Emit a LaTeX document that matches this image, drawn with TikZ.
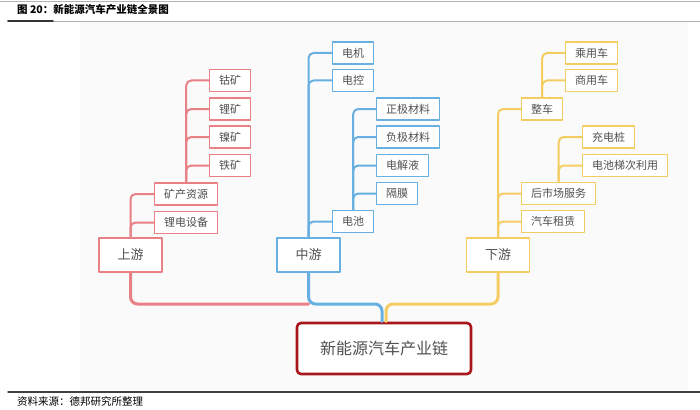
\documentclass[tikz,border=0pt]{standalone}
\usepackage{fontspec}
\setmainfont{Noto Sans CJK SC}
\usetikzlibrary{positioning}

\definecolor{upred}{RGB}{233,128,134}
\definecolor{midblue}{RGB}{104,176,226}
\definecolor{downyel}{RGB}{244,205,98}
\definecolor{hubred}{RGB}{168,22,28}
\definecolor{txtgray}{RGB}{80,80,80}
\definecolor{paper}{RGB}{250,250,250}

\tikzset{
  box/.style={draw=#1, line width=1.4pt, fill=white, text=txtgray,
    font=\fontsize{11}{13}\selectfont, minimum height=22pt,
    inner xsep=9.5pt, anchor=west},
  head/.style={box=#1, minimum height=34pt, minimum width=63pt,
    font=\fontsize{13}{15}\selectfont, anchor=center},
  branch/.style={draw=#1, line width=2pt, rounded corners=5pt},
  trunk/.style={draw=#1, line width=3pt, rounded corners=7pt},
}

\begin{document}
\begin{tikzpicture}[x=1pt, y=-1pt, line cap=round, line join=round]
  \useasboundingbox (0,0) rectangle (700,409);

  % Key values
  \def\busY{304}

  % Page frame: rules, title and source
  \fill[paper] (80,22) rectangle (688,390);
  \draw[gray!60, line width=0.6pt] (0,1) -- (700,1);
  \draw[gray!60, line width=0.8pt] (8,21) -- (700,21);
  \draw[black!80, line width=1.6pt] (8,21) -- (53,21);
  \draw[black!75, line width=1.4pt] (8,392) -- (700,392);
  \node[anchor=west, inner sep=0pt, font=\fontsize{10.5}{12}\selectfont\bfseries]
    (title) at (17,10) {图 20：新能源汽车产业链全景图};
  \node[anchor=west, inner sep=0pt, font=\fontsize{10.5}{12}\selectfont]
    (source) at (17,401.5) {资料来源：德邦研究所整理};

  % Centre node
  \node[draw=hubred, line width=2.6pt, rounded corners=4pt, fill=white,
    text=txtgray, minimum width=174pt, minimum height=51pt,
    font=\fontsize{16}{18}\selectfont] (hub) at (384,348.5) {新能源汽车产业链};

  % Upstream
  \node[head=upred] (up) at (130.5,255) {上游};
  \node[box=upred] (ore) at (154,194) {矿产资源};
  \node[box=upred] (equip) at (154,222.5) {锂电设备};
  \node[box=upred] (cobalt) at (209,80.5) {钴矿};
  \node[box=upred] (lithium) at (209,109) {锂矿};
  \node[box=upred] (nickel) at (209,137) {镍矿};
  \node[box=upred] (iron) at (209,165.5) {铁矿};

  % Midstream
  \node[head=midblue] (mid) at (308.5,255) {中游};
  \node[box=midblue] (motor) at (332,53) {电机};
  \node[box=midblue] (ectrl) at (332,80.5) {电控};
  \node[box=midblue] (battery) at (332,221.5) {电池};
  \node[box=midblue] (cathode) at (376,109) {正极材料};
  \node[box=midblue] (anode) at (376,137) {负极材料};
  \node[box=midblue] (electro) at (376,165.5) {电解液};
  \node[box=midblue] (separ) at (376,193.5) {隔膜};

  % Downstream
  \node[head=downyel] (down) at (498,255) {下游};
  \node[box=downyel] (vehicle) at (521,109) {整车};
  \node[box=downyel] (after) at (521,193.5) {后市场服务};
  \node[box=downyel] (rental) at (521,221.5) {汽车租赁};
  \node[box=downyel] (passenger) at (565,53) {乘用车};
  \node[box=downyel] (commercial) at (565,80.5) {商用车};
  \node[box=downyel] (charger) at (582,137) {充电桩};
  \node[box=downyel] (recycle) at (582,165.5) {电池梯次利用};

  % Branches
  \foreach \kid in {cobalt, lithium, nickel, iron}
    \draw[branch=upred] (ore.north) |- (\kid.west);
  \foreach \kid in {ore, equip}
    \draw[branch=upred] (up.north) |- (\kid.west);
  \foreach \kid in {motor, ectrl, battery}
    \draw[branch=midblue] (mid.north) |- (\kid.west);
  \foreach \kid in {cathode, anode, electro, separ}
    \draw[branch=midblue] (battery.north) |- (\kid.west);
  \foreach \kid in {vehicle, after, rental}
    \draw[branch=downyel] (down.north) |- (\kid.west);
  \foreach \kid in {passenger, commercial}
    \draw[branch=downyel] (vehicle.north) |- (\kid.west);
  \foreach \kid in {charger, recycle}
    \draw[branch=downyel] (after.north) |- (\kid.west);

  % Trunks into the centre node
  \coordinate (bus) at (0,\busY);
  \coordinate (hubL) at ([xshift=-2pt]hub.north);
  \coordinate (hubR) at ([xshift=2pt]hub.north);
  \draw[trunk=upred] (up.south) |- (mid.south |- bus);
  \draw[trunk=midblue] (mid.south) -- (mid.south |- bus) -- (hubL |- bus) -- (hubL);
  \draw[trunk=downyel] (down.south) -- (down.south |- bus) -- (hubR |- bus) -- (hubR);
\end{tikzpicture}
\end{document}
